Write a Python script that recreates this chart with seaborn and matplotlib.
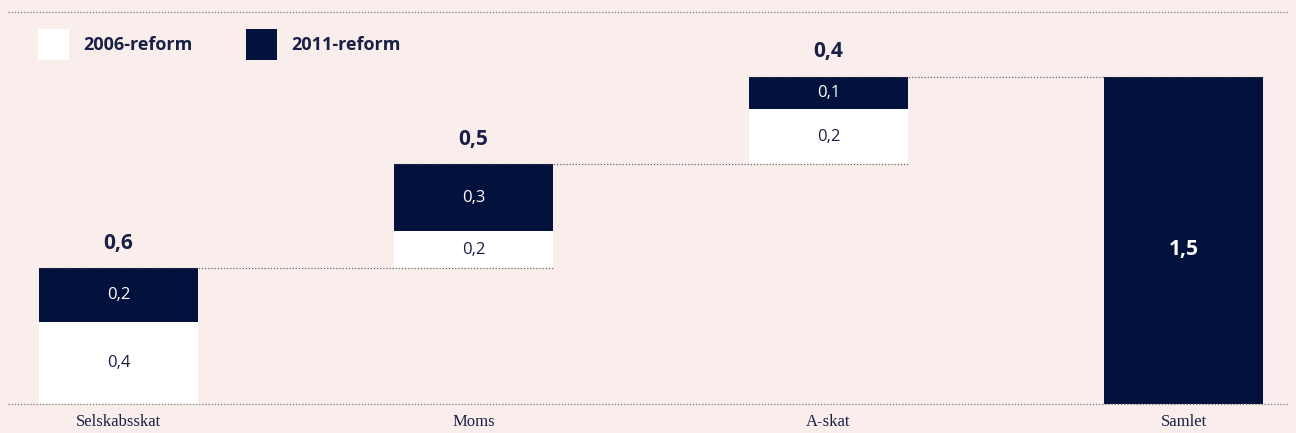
import pandas as pd
import seaborn as sns
from matplotlib import pyplot as plt
from matplotlib.patches import Rectangle

# data (mia. kr.)
categories = ['Selskabsskat', 'Moms', 'A-skat', 'Samlet']
reform_2006 = [0.375, 0.17, 0.25]
reform_2011 = [0.245, 0.305, 0.149]

bg = '#f9eeec'
navy = '#03123c'
txt = '#1a1f45'

# waterfall: each step starts where the previous one ended, Samlet is the sum
steps = [a + b for a, b in zip(reform_2006, reform_2011)]
bases = [sum(steps[:i]) for i in range(len(steps))] + [0]
total = sum(steps)
white_h = reform_2006 + [0]
navy_h = reform_2011 + [total]

df = pd.DataFrame({'kategori': categories, 'base': bases,
                   'r2006': white_h, 'r2011': navy_h})
df['mid'] = df['base'] + df['r2006']


def fmt(v):
    return f'{v:.1f}'.replace('.', ',')


sns.set_style('white', {'axes.facecolor': bg, 'figure.facecolor': bg})
plt.rcParams['font.family'] = ['Open Sans', 'DejaVu Sans']

fig = plt.figure(figsize=(12.96, 4.33), dpi=100)
ax = fig.add_axes([8 / 1296, 29 / 433, 1280 / 1296, 392 / 433])
bw = 0.448

sns.barplot(data=df, x='kategori', y='r2006', bottom=df['base'], color='white',
            width=bw, saturation=1, linewidth=0, ax=ax, zorder=3)
sns.barplot(data=df, x='kategori', y='r2011', bottom=df['mid'], color=navy,
            width=bw, saturation=1, linewidth=0, ax=ax, zorder=3)

ax.set_xlim(-0.311, 3.294)
ax.set_ylim(0, 1.79)

# connector lines between steps
tops = [b + s for b, s in zip(bases, steps)]
for i, t in enumerate(tops):
    ax.plot([i - bw / 2, i + 1 + bw / 2], [t, t], color='#444444', lw=0.9,
            ls=(0, (1, 1.5)), zorder=4, alpha=0.8)

# baseline and top rule
for yv in [0, 1.79]:
    ax.axhline(yv, color='#777777', lw=0.9, ls=(0, (1, 1.5)), zorder=4, clip_on=False)

# segment labels
for i in range(len(categories)):
    if white_h[i] > 0:
        ax.text(i, bases[i] + white_h[i] / 2, fmt(white_h[i]),
                ha='center', va='center', color=txt, fontsize=12, zorder=5)
    if i < len(steps):
        ax.text(i, df['mid'][i] + navy_h[i] / 2, fmt(navy_h[i]),
                ha='center', va='center', color='white', fontsize=12, zorder=5)
        ax.text(i, tops[i] + 0.115, fmt(steps[i]),
                ha='center', va='center', color=txt, fontsize=15, fontweight='bold')
    else:
        ax.text(i, total / 2 - 0.04, fmt(total),
                ha='center', va='center', color='white', fontsize=15,
                fontweight='bold', zorder=5)

# legend
for x0, fc, lab in [(38, 'white', '2006-reform'), (246, navy, '2011-reform')]:
    fig.patches.append(Rectangle((x0 / 1296, (433 - 60) / 433), 31 / 1296, 31 / 433,
                                 transform=fig.transFigure, facecolor=fc,
                                 edgecolor='none'))
    fig.text((x0 + 45) / 1296, (433 - 45) / 433, lab, ha='left', va='center',
             color=txt, fontsize=13, fontweight='bold')

ax.set_xlabel('')
ax.set_ylabel('')
ax.set_yticks([])
ax.tick_params(axis='x', length=0, pad=7)
for lab in ax.get_xticklabels():
    lab.set_fontfamily(['Liberation Serif', 'DejaVu Serif'])
    lab.set_fontsize(12)
    lab.set_color(txt)
sns.despine(ax=ax, left=True, bottom=True)

plt.savefig('out.png', dpi=100, facecolor=bg)
